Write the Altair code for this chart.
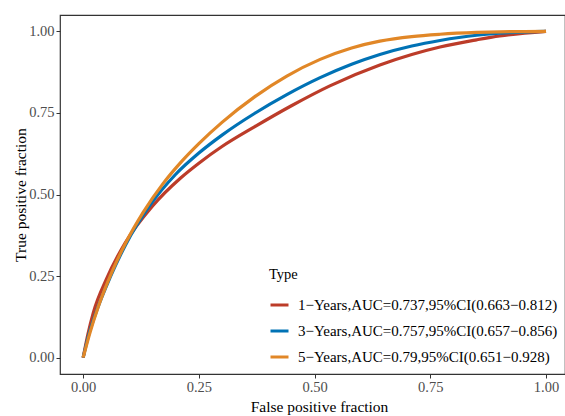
import altair as alt
import pandas as pd

# Series labels and colours (NEJM palette)
types = [
    "1−Years,AUC=0.737,95%CI(0.663−0.812)",
    "3−Years,AUC=0.757,95%CI(0.657−0.856)",
    "5−Years,AUC=0.79,95%CI(0.651−0.928)",
]
colors = ["#BC3C29", "#0072B5", "#E18727"]

# Smoothed ROC points: false positive fraction / true positive fraction
fpr_1y = [0, 0.01, 0.022, 0.05, 0.09, 0.15, 0.21, 0.25, 0.30, 0.371, 0.45, 0.533, 0.641, 0.71, 0.771, 0.85, 0.9, 1.0]
tpr_1y = [0, 0.07, 0.138, 0.24, 0.35, 0.465, 0.55, 0.596, 0.647, 0.708, 0.772, 0.833, 0.897, 0.929, 0.952, 0.974, 0.986, 1.0]

fpr_3y = [0, 0.012, 0.03, 0.058, 0.091, 0.145, 0.2, 0.25, 0.30, 0.371, 0.44, 0.512, 0.58, 0.641, 0.71, 0.771, 0.85, 0.9, 1.0]
tpr_3y = [0, 0.07, 0.147, 0.245, 0.344, 0.468, 0.562, 0.627, 0.682, 0.749, 0.806, 0.858, 0.899, 0.929, 0.955, 0.972, 0.988, 0.994, 1.0]

fpr_5y = [0, 0.015, 0.032, 0.063, 0.091, 0.13, 0.173, 0.21, 0.25, 0.30, 0.371, 0.44, 0.512, 0.58, 0.641, 0.71, 0.771, 0.85, 0.9, 1.0]
tpr_5y = [0, 0.078, 0.153, 0.265, 0.349, 0.446, 0.534, 0.597, 0.656, 0.721, 0.8, 0.863, 0.914, 0.949, 0.97, 0.984, 0.991, 0.9965, 0.9985, 1.0]

axis_ticks = [0, 0.25, 0.5, 0.75, 1.0]

rows = []
for label, xs, ys in zip(types, [fpr_1y, fpr_3y, fpr_5y], [tpr_1y, tpr_3y, tpr_5y]):
    for i, (fx, ty) in enumerate(zip(xs, ys)):
        rows.append({"Type": label, "fpr": fx, "tpr": ty, "idx": i})
df = pd.DataFrame(rows)

FONT = "Liberation Serif"

x_enc = alt.X(
    "fpr:Q",
    scale=alt.Scale(domain=[-0.05, 1.041], nice=False, zero=False),
    axis=alt.Axis(values=axis_ticks, format=".2f", title="False positive fraction",
                  titleY=32, titleX=259, titleBaseline="middle"),
)
y_enc = alt.Y(
    "tpr:Q",
    scale=alt.Scale(domain=[-0.05, 1.05], nice=False, zero=False),
    axis=alt.Axis(values=axis_ticks, format=".2f", title="True positive fraction",
                  titleX=-40, titleBaseline="middle"),
)
color_enc = alt.Color(
    "Type:N",
    scale=alt.Scale(domain=types, range=colors),
    legend=alt.Legend(
        title="Type", orient="none", legendX=209, legendY=253,
        symbolType="stroke", symbolStrokeWidth=3, symbolSize=324,
        labelOffset=8, rowPadding=7, titlePadding=12, padding=0, labelLimit=400,
    ),
)

layers = []
for label in types:
    layers.append(
        alt.Chart(df)
        .transform_filter(alt.datum.Type == label)
        .mark_line(strokeWidth=3.2, interpolate="monotone")
        .encode(x=x_enc, y=y_enc, color=color_enc, order="idx:Q")
    )

chart = (
    alt.layer(*layers)
    .properties(width=505, height=359, autosize="none",
                padding={"left": 60, "top": 15, "right": 0, "bottom": 42})
    .configure_view(stroke="#333333", strokeWidth=1.2)
    .configure_axis(
        domain=False, grid=False, tickColor="#333333", tickSize=4, labelPadding=2,
        labelColor="#4D4D4D", labelFont=FONT, labelFontSize=14.5,
        titleFont=FONT, titleFontSize=15.5, titleColor="black", titleFontWeight="normal",
    )
    .configure_legend(
        titleFont=FONT, titleFontSize=14.5, titleFontWeight="normal", titleColor="black",
        labelFont=FONT, labelFontSize=15, labelColor="black",
    )
)

chart.save("out.html", embed_options={"renderer": "svg", "actions": False})
